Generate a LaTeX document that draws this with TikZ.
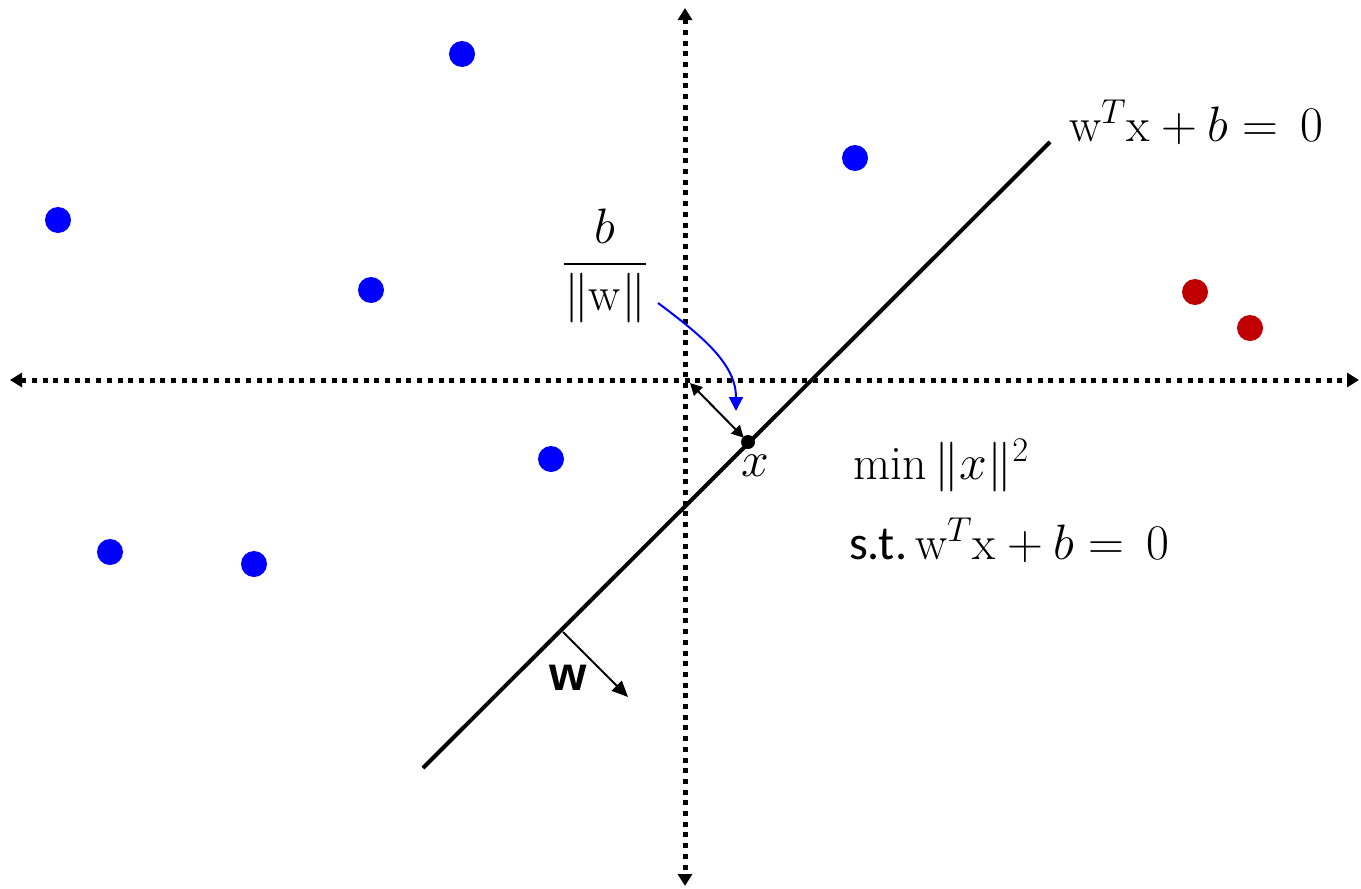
\documentclass[tikz,border=0pt]{standalone}
\usepackage{amsmath}
\usepackage{amssymb}
\usepackage{fontspec}
\newfontfamily\labelfont{Liberation Sans}
\newfontfamily\stfont{Carlito}
\usetikzlibrary{calc, arrows.meta}
\definecolor{darkred}{HTML}{C00000}

\begin{document}
\begin{tikzpicture}[x=0.5pt, y=-0.5pt, font=\fontsize{24}{29}\selectfont]

        % 1. Fix the frame and the axis end points
        \useasboundingbox (0,0) rectangle (1361,889);

        \coordinate (Left) at (10,380);
        \coordinate (Right) at (1359,380);
        \coordinate (Top) at (685,8);
        \coordinate (Bottom) at (685,886);
        \coordinate (O) at (690,383); % origin corner

        % Ends of the separating line
        \coordinate (LineA) at (423,768);
        \coordinate (LineB) at (1050,142);

        \tikzset{axis/.style={line width=2.5pt, dash pattern=on 2.5pt off 2.85pt,
                              {Triangle[width=7pt,length=6pt]}-{Triangle[width=7pt,length=6pt]}}}
        \tikzset{vertex/.style={circle, minimum size=13pt, inner sep=0pt}}

        % 2. Draw the dotted axes
        \draw[axis] (Left) -- (Right);
        \draw[axis] (Top) -- (Bottom);

        % 3. Draw the hyperplane
        \draw[line width=2pt, black] (LineA) -- (LineB);
        \node[anchor=west] (plane) at (1062,122) {$\mathrm{w}^T\mathrm{x}+b=\,0$};

        % 4. Point x on the line and its distance to the origin
        \node[fill=black, circle, minimum size=7pt, inner sep=0pt] (X) at (748,442) {};
        \node (xlab) at (755,466) {$x$};
        \draw[line width=1pt, {Triangle[width=6pt,length=6pt]}-{Triangle[width=6pt,length=6pt]}]
                (O) -- ($(X)!3pt!(O)$);

        % Fraction b / ||w|| with its blue pointer
        \node (frac) at (605,266) {$\dfrac{b}{\|\mathrm{w}\|}$};
        \coordinate (fracEnd) at (658,303);
        \coordinate (distMid) at (736,411);
        \draw[blue, line width=1pt, -{Triangle[width=7pt,length=7pt]}]
                (fracEnd) .. controls (705,338) and (736,365) .. (distMid);

        % 5. Normal vector w
        \coordinate (W0) at (563,632);
        \coordinate (W1) at (628,697);
        \draw[line width=1pt, -{Triangle[width=7pt,length=8pt]}] (W0) -- (W1);
        \node (wlab) at (568,678) {\labelfont\bfseries w};

        % 6. Optimisation problem
        \node[anchor=west] (minlab) at (846,466) {$\min\|x\|^2$};
        \node[anchor=west] (stlab) at (842,540) {{\stfont s.t.}\,$\mathrm{w}^T\mathrm{x}+b=\,0$};

        % 7. Data points
        \foreach \name/\px/\py in {p1/462/54, p2/58/220, p3/371/290, p4/855/158,
                                   p5/551/459, p6/110/552, p7/254/564}
          \node[vertex, fill=blue] (\name) at (\px,\py) {};
        \node[vertex, fill=darkred] (q1) at (1195,292) {};
        \node[vertex, fill=darkred] (q2) at (1250,328) {};

    \end{tikzpicture}
\end{document}
